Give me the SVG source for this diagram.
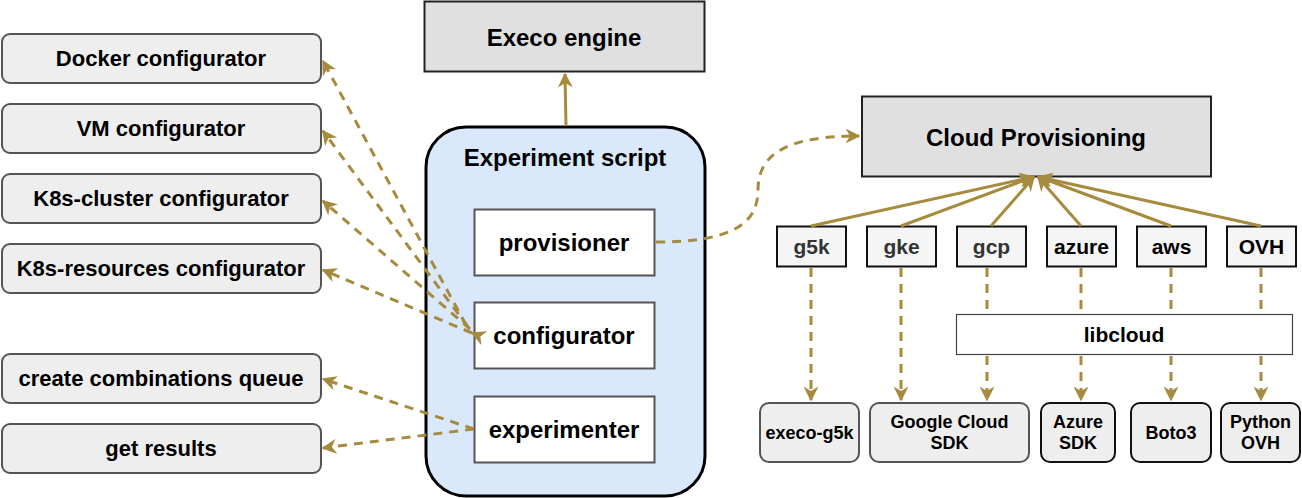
<svg xmlns="http://www.w3.org/2000/svg" width="1302" height="498" viewBox="0 0 1302 498">
<style>
text{font-family:"Liberation Sans",Arial,sans-serif;font-weight:bold;text-anchor:middle;dominant-baseline:central;fill:#000}
.lb{fill:#eeeeee;stroke:#555;stroke-width:2}
.gr{fill:#e0e0e0;stroke:#222;stroke-width:2}
.wh{fill:#fff;stroke:#555;stroke-width:2}
.pv{fill:#f5f5f5;stroke:#111;stroke-width:2}
.bk{fill:#eeeeee;stroke:#111;stroke-width:2}
.t22{font-size:22px}
.t24{font-size:24px}
.t21{font-size:21px}
.t18{font-size:18px}
.g3{fill:#333}
.ln{fill:none;stroke:#a68b3f;stroke-width:3}
.ds{stroke-dasharray:9,7}
</style>
<defs>
<marker id="ah" viewBox="0 0 10 10" refX="9" refY="5" markerWidth="5" markerHeight="5" orient="auto" markerUnits="strokeWidth">
<path d="M0,0 L10,5 L0,10 L3,5 z" fill="#a68b3f"/>
</marker>
</defs>

<g id="docker"><rect class="lb" x="2" y="34" width="319" height="49" rx="8"/><text class="t22" x="161" y="58.5">Docker configurator</text></g>
<g id="vm"><rect class="lb" x="2" y="104" width="319" height="49" rx="8"/><text class="t22" x="161" y="128.5">VM configurator</text></g>
<g id="k8scluster"><rect class="lb" x="2" y="174" width="319" height="49" rx="8"/><text class="t22" x="161" y="198.5">K8s-cluster configurator</text></g>
<g id="k8sres"><rect class="lb" x="2" y="244" width="319" height="49" rx="8"/><text class="t22" x="161" y="268.5">K8s-resources configurator</text></g>
<g id="combq"><rect class="lb" x="2" y="354" width="319" height="49" rx="8"/><text class="t22" x="161" y="378.5">create combinations queue</text></g>
<g id="results"><rect class="lb" x="2" y="424" width="319" height="49" rx="8"/><text class="t22" x="161" y="448.5">get results</text></g>

<g id="execo"><rect class="gr" x="424.5" y="1.5" width="280" height="70"/><text class="t24" x="564" y="37">Execo engine</text></g>

<g id="script"><rect x="426" y="127" width="279" height="369" rx="40" fill="#dae8fc" stroke="#000" stroke-width="3"/><text class="t24" x="565" y="157">Experiment script</text></g>
<g id="provisioner"><rect class="wh" x="474.5" y="209.5" width="180" height="66"/><text class="t24" x="564" y="242.5">provisioner</text></g>
<g id="configurator"><rect class="wh" x="474.5" y="302.5" width="180" height="66"/><text class="t24" x="564" y="335.5">configurator</text></g>
<g id="experimenter"><rect class="wh" x="474.5" y="396.5" width="180" height="66"/><text class="t24" x="564" y="429.5">experimenter</text></g>

<g id="cloudprov"><rect class="gr" x="862" y="96.5" width="349" height="80"/><text class="t24" x="1036" y="137">Cloud Provisioning</text></g>

<g id="g5k"><rect class="pv" x="777" y="226.5" width="69" height="40"/><text class="t21 g3" x="811.5" y="246.5">g5k</text></g>
<g id="gke"><rect class="pv" x="867" y="226.5" width="69" height="40"/><text class="t21 g3" x="901.5" y="246.5">gke</text></g>
<g id="gcp"><rect class="pv" x="957" y="226.5" width="69" height="40"/><text class="t21 g3" x="991.5" y="246.5">gcp</text></g>
<g id="azure"><rect class="pv" x="1047" y="226.5" width="69" height="40"/><text class="t21" x="1081.5" y="246.5">azure</text></g>
<g id="aws"><rect class="pv" x="1137" y="226.5" width="69" height="40"/><text class="t21" x="1171.5" y="246.5">aws</text></g>
<g id="ovh"><rect class="pv" x="1227" y="226.5" width="69" height="40"/><text class="t21" x="1261.5" y="246.5">OVH</text></g>

<g id="libcloud"><rect x="956.5" y="314.5" width="336" height="40" fill="#fff" stroke="#444" stroke-width="1.2"/><text class="t21" x="1124" y="334.5">libcloud</text></g>

<g id="execog5k"><rect class="lb" x="760" y="403" width="99" height="59" rx="9"/><text class="t18" x="809.5" y="432.5">execo-g5k</text></g>
<g id="gcsdk"><rect class="lb" x="870" y="403" width="159" height="59" rx="9"/><text class="t18" x="949.5" y="421.5">Google Cloud</text><text class="t18" x="949.5" y="443">SDK</text></g>
<g id="azuresdk"><rect class="bk" x="1041" y="403" width="74" height="59" rx="9"/><text class="t18" x="1078" y="421.5">Azure</text><text class="t18" x="1078" y="443">SDK</text></g>
<g id="boto3"><rect class="bk" x="1131" y="403" width="80" height="59" rx="9"/><text class="t18" x="1171" y="432.5">Boto3</text></g>
<g id="pyovh"><rect class="bk" x="1221" y="403" width="79" height="59" rx="9"/><text class="t18" x="1260.5" y="421.5">Python</text><text class="t18" x="1260.5" y="443">OVH</text></g>

<g id="connectors">
<path class="ln" d="M566,126 L565,74" marker-end="url(#ah)"/>
<path class="ln ds" d="M466,325 L323,61" marker-end="url(#ah)"/>
<path class="ln ds" d="M468,327 L323,131" marker-end="url(#ah)"/>
<path class="ln ds" d="M470,329 L323,201" marker-end="url(#ah)"/>
<path class="ln ds" d="M472,333 L323,270" marker-end="url(#ah)" marker-start="url(#ah)"/>
<path class="ln ds" d="M474,429 L323,379" marker-end="url(#ah)"/>
<path class="ln ds" d="M474,429 L323,448" marker-end="url(#ah)"/>
<path class="ln ds" d="M656,242 C735,242 758,222 758,190 C758,152 790,136 859,136" marker-end="url(#ah)"/>
<path class="ln" d="M811,226 L1033,177" marker-end="url(#ah)"/>
<path class="ln" d="M901,226 L1033,177" marker-end="url(#ah)"/>
<path class="ln" d="M991,226 L1034,177" marker-end="url(#ah)"/>
<path class="ln" d="M1081,226 L1038,177" marker-end="url(#ah)"/>
<path class="ln" d="M1171,226 L1039,177" marker-end="url(#ah)"/>
<path class="ln" d="M1261,226 L1039,177" marker-end="url(#ah)"/>
<path class="ln ds" d="M811,268 L811,400" marker-end="url(#ah)"/>
<path class="ln ds" d="M901,268 L901,400" marker-end="url(#ah)"/>
<path class="ln ds" d="M987,268 L987,313 M987,356 L987,400" marker-end="url(#ah)"/>
<path class="ln ds" d="M1081,268 L1081,313 M1081,356 L1081,400" marker-end="url(#ah)"/>
<path class="ln ds" d="M1171,268 L1171,313 M1171,356 L1171,400" marker-end="url(#ah)"/>
<path class="ln ds" d="M1261,268 L1261,313 M1261,356 L1261,400" marker-end="url(#ah)"/>
</g>
</svg>
